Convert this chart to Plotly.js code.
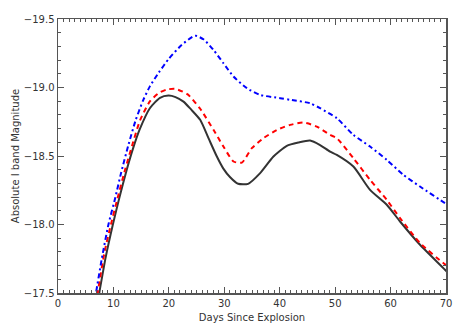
<!DOCTYPE html>
<html>
<head>
<meta charset="utf-8">
<script src="https://cdn.plot.ly/plotly-3.0.1.min.js"></script>
<style>html,body{margin:0;padding:0;background:#fff;}#chart{width:463px;height:331px;}</style>
</head>
<body>
<div id="chart"></div>
<script>
// Days since explosion and absolute I-band magnitudes
const blackDays = [7.1, 7.44, 8.6, 9.9, 11.1, 12.4, 13.5, 14.7, 16.6, 18.4, 19.94, 21.2, 22.64, 24.0, 25.65, 27.15, 28.66, 29.8, 31.06, 32.5, 34.3, 36.47, 38.87, 41.28, 43.37, 45.48, 47.28, 49.09, 50.3, 53.29, 56.3, 59.31, 61.71, 65.31, 69.82, 70.5];
const blackMag  = [-17.42, -17.50, -17.76, -18.0, -18.2, -18.40, -18.55, -18.69, -18.85, -18.925, -18.941, -18.93, -18.897, -18.84, -18.764, -18.63, -18.496, -18.41, -18.345, -18.297, -18.297, -18.375, -18.496, -18.574, -18.598, -18.613, -18.58, -18.532, -18.508, -18.423, -18.253, -18.144, -18.022, -17.852, -17.67, -17.64];

const redDays = [6.8, 7.14, 8.4, 9.55, 10.8, 12.1, 13.4, 14.8, 16.6, 18.2, 19.6, 21.15, 23.4, 25.65, 28.05, 29.85, 31.66, 33.17, 34.97, 37.07, 39.48, 41.88, 44.28, 46.69, 49.09, 50.3, 53.29, 56.3, 59.31, 61.71, 65.31, 69.51, 70.5];
const redMag  = [-17.42, -17.50, -17.80, -18.0, -18.2, -18.40, -18.58, -18.76, -18.90, -18.96, -18.985, -18.99, -18.95, -18.845, -18.691, -18.569, -18.46, -18.452, -18.557, -18.63, -18.69, -18.727, -18.744, -18.715, -18.654, -18.63, -18.484, -18.326, -18.18, -18.047, -17.865, -17.719, -17.69];

const blueDays = [6.5, 6.85, 7.9, 9.1, 10.3, 11.4, 12.7, 14.0, 15.4, 16.6, 18.2, 20.0, 22.3, 24.75, 26.3, 28.05, 29.85, 31.66, 34.07, 36.47, 40.08, 41.88, 45.48, 47.28, 50.3, 53.29, 56.3, 59.31, 62.3, 65.31, 69.82, 70.5];
const blueMag  = [-17.42, -17.50, -17.75, -18.0, -18.19, -18.38, -18.58, -18.76, -18.91, -19.01, -19.11, -19.21, -19.31, -19.378, -19.35, -19.274, -19.177, -19.08, -18.995, -18.946, -18.922, -18.91, -18.885, -18.849, -18.776, -18.654, -18.569, -18.472, -18.363, -18.277, -18.156, -18.14];

const xTicks = [0, 10, 20, 30, 40, 50, 60, 70];
const yTicks = [-17.5, -18.0, -18.5, -19.0, -19.5];

const traces = [
  {x: blackDays, y: blackMag, mode: 'lines', line: {color: '#333333', width: 2, shape: 'spline', smoothing: 0.6}, hoverinfo: 'skip'},
  {x: redDays, y: redMag, mode: 'lines', line: {color: '#ff0000', width: 2, dash: '5px,4px', shape: 'spline', smoothing: 0.6}, hoverinfo: 'skip'},
  {x: blueDays, y: blueMag, mode: 'lines', line: {color: '#0000ff', width: 2, dash: '5px,3px,2px,3px', shape: 'spline', smoothing: 0.6}, hoverinfo: 'skip'}
];

const axisCommon = {
  showgrid: false, zeroline: false, showline: true, linecolor: '#555555', linewidth: 1.5,
  mirror: 'ticks', ticks: 'inside', ticklen: 6, tickwidth: 1, tickcolor: '#555555',
  tickfont: {family: 'DejaVu Sans, sans-serif', size: 10, color: '#333333'}
};

const layout = {
  width: 463, height: 331,
  margin: {l: 58, r: 17, t: 19, b: 38},
  paper_bgcolor: '#ffffff', plot_bgcolor: '#ffffff',
  showlegend: false,
  xaxis: Object.assign({}, axisCommon, {
    range: [0, 70], tickvals: xTicks, ticktext: xTicks.map(String),
    minor: {dtick: 1, ticks: 'inside', ticklen: 3, tickcolor: '#555555'},
    title: {text: 'Days Since Explosion', font: {family: 'DejaVu Sans, sans-serif', size: 10, color: '#333333'}, standoff: 6}
  }),
  yaxis: Object.assign({}, axisCommon, {
    range: [-17.5, -19.5], tickvals: yTicks, ticktext: yTicks.map(v => '\u2212' + Math.abs(v).toFixed(1)),
    minor: {dtick: 0.1, ticks: 'inside', ticklen: 3, tickcolor: '#555555'},
    title: {text: 'Absolute I band Magnitude', font: {family: 'DejaVu Sans, sans-serif', size: 10, color: '#333333'}, standoff: 2}
  })
};

Plotly.newPlot('chart', traces, layout, {staticPlot: true, displayModeBar: false});
</script>
</body>
</html>
